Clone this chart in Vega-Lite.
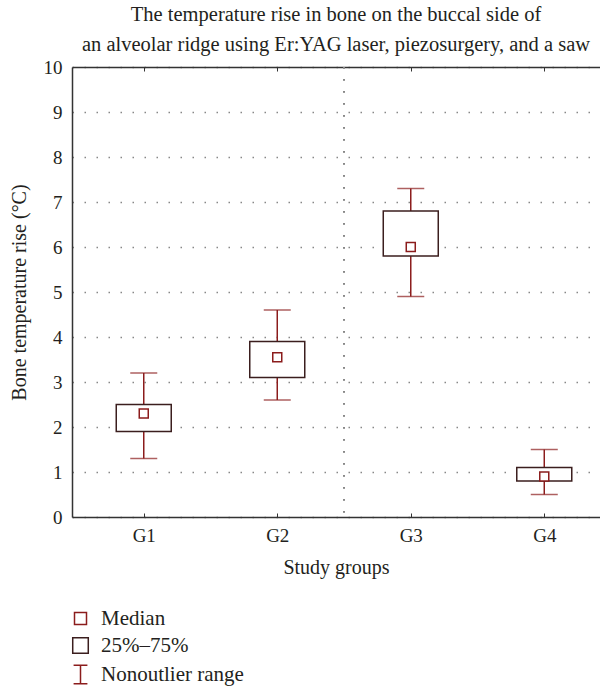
{
  "$schema": "https://vega.github.io/schema/vega-lite/v6.json",
  "width": 528,
  "height": 450,
  "autosize": {"type": "none"},
  "padding": {"left": 72, "top": 67, "right": 0, "bottom": 169},
  "background": "white",
  "config": {
    "view": {"stroke": null},
    "font": "Liberation Serif",
    "axis": {
      "labelFont": "Liberation Serif",
      "titleFont": "Liberation Serif",
      "labelFontSize": 19,
      "titleFontSize": 20,
      "labelColor": "#231f20",
      "titleColor": "#231f20",
      "titleFontWeight": "normal",
      "domainColor": "#333333",
      "domainWidth": 1.5,
      "tickColor": "#333333"
    }
  },
  "title": {
    "text": ["The temperature rise in bone on the buccal side of", "an alveolar ridge using Er:YAG laser, piezosurgery, and a saw"],
    "font": "Liberation Serif",
    "fontSize": 20.5,
    "fontWeight": "normal",
    "lineHeight": 30,
    "color": "#231f20",
    "anchor": "middle",
    "offset": 3
  },
  "data": {
    "values": [
      {"group": 1, "min": 1.3, "q1": 1.9, "median": 2.3, "q3": 2.5, "max": 3.2},
      {"group": 2, "min": 2.6, "q1": 3.1, "median": 3.55, "q3": 3.9, "max": 4.6},
      {"group": 3, "min": 4.9, "q1": 5.8, "median": 6.0, "q3": 6.8, "max": 7.3},
      {"group": 4, "min": 0.5, "q1": 0.8, "median": 0.9, "q3": 1.1, "max": 1.5}
    ]
  },
  "layer": [
    {
      "mark": {"type": "rule", "color": "#888888", "strokeWidth": 1.5, "strokeDash": [1.5, 10.5]},
      "encoding": {
        "x": {
          "datum": 2.5,
          "type": "quantitative",
          "scale": {"domain": [0.5, 4.38], "nice": false, "zero": false},
          "axis": {"orient": "top", "values": [1, 2, 3, 4], "labels": false, "title": null, "grid": false, "tickSize": -4, "domain": true}
        }
      }
    },
    {
      "mark": {"type": "rule", "color": "#8b1c1c", "strokeWidth": 1.5},
      "encoding": {
        "x": {
          "field": "group",
          "type": "quantitative",
          "scale": {"domain": [0.5, 4.38], "nice": false, "zero": false},
          "axis": {"orient": "bottom", "values": [1, 2, 3, 4], "labelExpr": "'G' + datum.value", "title": "Study groups", "grid": false, "tickSize": -4, "labelPadding": 13, "titlePadding": 12}
        },
        "y": {
          "field": "min",
          "type": "quantitative",
          "scale": {"domain": [0, 10], "nice": false, "zero": true},
          "axis": {"values": [0, 1, 2, 3, 4, 5, 6, 7, 8, 9, 10], "ticks": false, "grid": true, "gridDash": [1.5, 10.5], "gridColor": "#888888", "gridWidth": 1.5, "labelPadding": 10, "title": "Bone temperature rise (°C)", "titlePadding": 14}
        },
        "y2": {"field": "max"}
      }
    },
    {
      "mark": {"type": "bar", "orient": "vertical", "width": 55, "fill": "white", "stroke": "#3b1e1e", "strokeWidth": 1.5},
      "encoding": {
        "x": {"field": "group", "type": "quantitative", "axis": null},
        "y": {"field": "q1", "type": "quantitative", "axis": null},
        "y2": {"field": "q3"}
      }
    },
    {
      "mark": {"type": "tick", "orient": "horizontal", "size": 27, "thickness": 1.5, "color": "#8b1c1c"},
      "encoding": {
        "x": {"field": "group", "type": "quantitative", "axis": null},
        "y": {"field": "max", "type": "quantitative", "axis": null}
      }
    },
    {
      "mark": {"type": "tick", "orient": "horizontal", "size": 27, "thickness": 1.5, "color": "#8b1c1c"},
      "encoding": {
        "x": {"field": "group", "type": "quantitative", "axis": null},
        "y": {"field": "min", "type": "quantitative", "axis": null}
      }
    },
    {
      "mark": {"type": "point", "shape": "square", "size": 81, "filled": true, "fill": "white", "stroke": "#8b1c1c", "strokeWidth": 1.5, "opacity": 1},
      "encoding": {
        "x": {"field": "group", "type": "quantitative", "axis": null},
        "y": {"field": "median", "type": "quantitative", "axis": null}
      }
    },
    {
      "data": {"values": [{"item": "Median"}, {"item": "25%–75%"}, {"item": "Nonoutlier range"}]},
      "mark": {"type": "point", "filled": false, "opacity": 0, "strokeWidth": 1.5},
      "encoding": {
        "shape": {
          "field": "item",
          "type": "nominal",
          "scale": {"domain": ["Median", "25%–75%", "Nonoutlier range"], "range": ["square", "square", "M-0.75,-1L0.75,-1M0,-1L0,1M-0.75,1L0.75,1"]},
          "legend": {
            "orient": "none",
            "legendX": -2,
            "legendY": 541,
            "title": null,
            "labelFont": "Liberation Serif",
            "labelFontSize": 21,
            "labelColor": "#231f20",
            "labelOffset": 10,
            "rowPadding": 5,
            "symbolOpacity": 1,
            "symbolStrokeWidth": 1.5,
            "symbolFillColor": "white"
          }
        },
        "stroke": {
          "field": "item",
          "type": "nominal",
          "scale": {"domain": ["Median", "25%–75%", "Nonoutlier range"], "range": ["#8b1c1c", "#3b1e1e", "#8b1c1c"]}
        },
        "size": {
          "field": "item",
          "type": "nominal",
          "scale": {"domain": ["Median", "25%–75%", "Nonoutlier range"], "range": [144, 340, 400]}
        }
      }
    }
  ],
  "resolve": {"axis": {"x": "independent", "y": "independent"}}
}
